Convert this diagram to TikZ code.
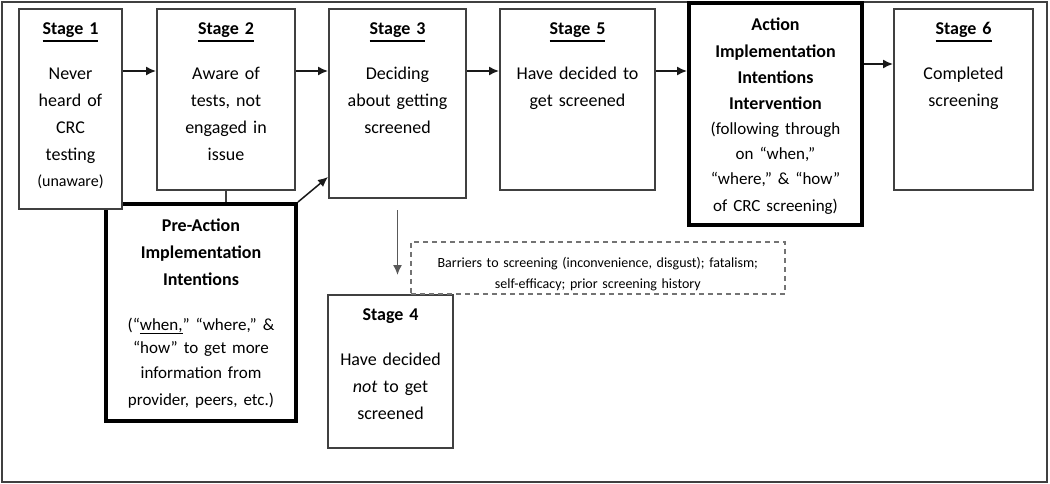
\documentclass[tikz,border=0pt]{standalone}
\usepackage{fontspec}
\setmainfont{Carlito}
\usetikzlibrary{arrows.meta}

\newcommand{\stagehead}[1]{\setbox0=\hbox{\textbf{#1}}\leavevmode\rlap{\raisebox{-6.8pt}{\rule{\wd0}{1.7pt}}}\box0}

\tikzset{
  stagebox/.style={draw=black!75, line width=2pt, fill=white, inner sep=0pt,
    anchor=north west, align=center, font=\fontsize{18}{27}\selectfont},
  actbox/.style={stagebox, draw=black, line width=4pt},
  flow/.style={-{Latex[length=10pt,width=9pt]}, line width=1.5pt, black!90},
}

\begin{document}
\begin{tikzpicture}[x=1pt,y=-1pt]
    \useasboundingbox (0,0) rectangle (1050,484);
    \draw[black!75, line width=1.6pt] (2,2) rectangle (1047,482);

    % intervention before stage 3
    \node[actbox, text width=190pt, text height=27pt, text depth=190pt] (pre) at (104,202)
      {{\bfseries Pre-Action\\Implementation\\Intentions\par}
       \fontsize{17}{24}\selectfont\vskip 21pt
       (“\underline{when,}” “where,” \&\\“how” to get more\\information from\\provider, peers, etc.)};

    % stages along the top
    \node[stagebox, text width=103pt, text height=26pt, text depth=174pt] (s1) at (18,8)
      {\stagehead{Stage 1}\\[18pt]Never\\heard of\\CRC\\testing\par
       {\fontsize{16}{26}\selectfont (unaware)\par}};
    \node[stagebox, text width=138pt, text height=26pt, text depth=155pt] (s2) at (156,8)
      {\stagehead{Stage 2}\\[18pt]Aware of\\tests, not\\engaged in\\issue};
    \node[stagebox, text width=137pt, text height=26pt, text depth=163pt] (s3) at (328,8)
      {\stagehead{Stage 3}\\[18pt]Deciding\\about getting\\screened};
    \node[stagebox, text width=155pt, text height=26pt, text depth=155pt] (s5) at (499,8)
      {\stagehead{Stage 5}\\[18pt]Have decided to\\get screened};
    \node[actbox, text width=173pt, text height=28pt, text depth=194pt] (act) at (687,1)
      {{\fontsize{18}{26.3}\selectfont\bfseries Action\\Implementation\\Intentions\\Intervention\par}
       \fontsize{17}{25}\selectfont (following through\\on “when,”\\“where,” \& “how”\\of CRC screening)};
    \node[stagebox, text width=139pt, text height=26pt, text depth=155pt] (s6) at (893,8)
      {\stagehead{Stage 6}\\[18pt]Completed\\screening};

    % stage 4 and its barriers
    \node[stagebox, text width=125pt, text height=25pt, text depth=128pt] (s4) at (327,294)
      {\textbf{Stage 4}\\[18pt]Have decided\\\emph{not} to get\\screened};
    \node[draw=black!55, dash pattern=on 5pt off 4pt, line width=1.6pt, inner sep=0pt,
      anchor=north west, align=center, font=\fontsize{14}{21}\selectfont,
      text width=374pt, text height=26pt, text depth=26pt] (barrier) at (410,241)
      {Barriers to screening (inconvenience, disgust); fatalism;\\self-efficacy; prior screening history};

    \foreach \a/\b in {s1/s2,s2/s3,s3/s5,s5/act,act/s6}
      \draw[flow] ([yshift=-63pt]\a.north east) -- ([yshift=-63pt]\a.north east -| \b.west);

    \draw[black!75, line width=2pt] (s2.south) -- (s2.south |- pre.north);
    \draw[flow] (pre.north east) -- ([yshift=22pt]s3.south west);
    \draw[flow, black!65] ([yshift=-11pt]s3.south) -- ++(0,65);
  \end{tikzpicture}
\end{document}
